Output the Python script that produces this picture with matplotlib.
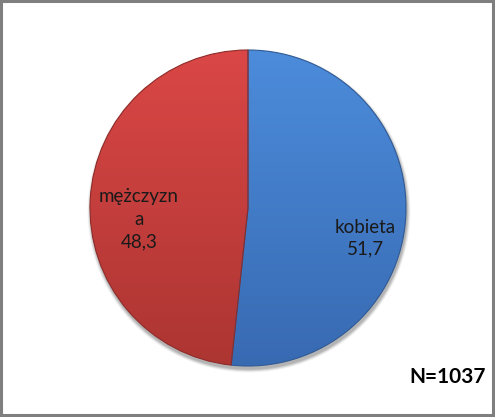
import numpy as np
import matplotlib
matplotlib.use("Agg")
import matplotlib.pyplot as plt
from matplotlib.colors import LinearSegmentedColormap
from matplotlib.patches import Rectangle

categories = ["kobieta", "mężczyzna"]
values = [51.7, 48.3]
label_texts = ["kobieta\n51,7", "mężczyzn\na\n48,3"]
note = "N=1037"

top_colors = ["#4C8CDB", "#DA4746"]
bottom_colors = ["#386AB2", "#AC3532"]
edge_colors = ["#2F5A94", "#8E2B28"]

plt.rcParams['font.family'] = ['Lato', 'DejaVu Sans']

W, H = 495, 417
fig = plt.figure(figsize=(W / 100, H / 100), dpi=100)
ax = fig.add_axes([0, 0, 1, 1])
ax.set_xlim(0, W)
ax.set_ylim(0, H)
ax.set_aspect('equal')
ax.axis('off')

cx, cy, r = 248, H - 208, 158

# shadow
for k, a in zip(range(6, 0, -1), [0.03, 0.04, 0.05, 0.06, 0.07, 0.08]):
    circ = plt.Circle((cx + 1, cy - 3), r + k * 0.6, color='black', alpha=a, lw=0, zorder=0)
    ax.add_patch(circ)

wedges, _ = ax.pie(values, startangle=90, counterclock=False, center=(cx, cy),
                   radius=r, colors=top_colors,
                   wedgeprops=dict(linewidth=0.8, zorder=2), frame=True)
ax.set_xlim(0, W)
ax.set_ylim(0, H)
ax.axis('off')

grad = np.linspace(0, 1, 256).reshape(-1, 1)
for w, tc, bc, ec in zip(wedges, top_colors, bottom_colors, edge_colors):
    w.set_edgecolor(ec)
    w.set_facecolor('none')
    cmap = LinearSegmentedColormap.from_list('g', [bc, tc])
    im = ax.imshow(grad, cmap=cmap, origin='lower', aspect='auto',
                   extent=[cx - r, cx + r, cy - r, cy + r], zorder=1.5,
                   interpolation='bilinear')
    im.set_clip_path(w)

ax.set_xlim(0, W)
ax.set_ylim(0, H)

ax.text(365, H - 238, label_texts[0], ha='center', va='center', fontsize=13.5,
        color='#1a1a1a', linespacing=1.3, zorder=3)
ax.text(139, H - 219, label_texts[1], ha='center', va='center', fontsize=13.5,
        color='#1a1a1a', linespacing=1.4, zorder=3)

ax.text(486, H - 377, note, ha='right', va='center', fontsize=15,
        fontweight='bold', color='black', zorder=3)

fig.patches.append(Rectangle((0.002, 0.004), 0.994, 0.993, transform=fig.transFigure,
                             fill=False, edgecolor='#7f7f7f', linewidth=2.2))

fig.savefig("out.png", dpi=100, facecolor='white')
